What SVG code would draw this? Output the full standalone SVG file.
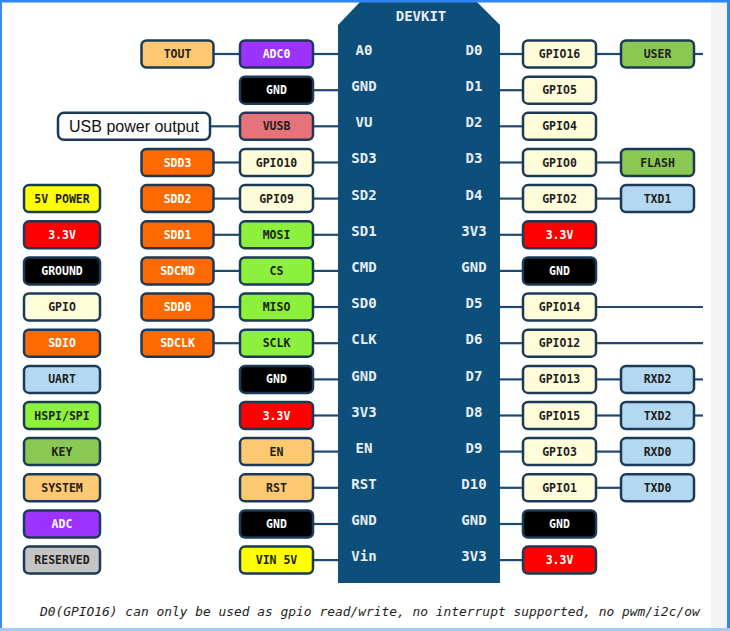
<svg xmlns="http://www.w3.org/2000/svg" width="730" height="631" viewBox="0 0 730 631">
<style>
.b{stroke:#1b3a58;stroke-width:2.5}
.t{font-family:"DejaVu Sans Mono","Liberation Mono",monospace;font-weight:bold;font-size:11.5px;text-anchor:middle;fill:#1e1e1e}
.w{fill:#ffffff}
.pl{font-family:"DejaVu Sans Mono","Liberation Mono",monospace;font-weight:bold;font-size:14px;text-anchor:middle;fill:#e8eef4}
.peach{fill:#fdc872}.purple{fill:#9d33ff}.black{fill:#000000}.salmon{fill:#e8727a}
.orange{fill:#ff6a00}.cream{fill:#fffcd9}.yellow{fill:#ffff00}.red{fill:#ff0000}
.lime{fill:#8cf03c}.green{fill:#8ac853}.blue{fill:#b5d8f1}.gray{fill:#c4c4c4}.white{fill:#ffffff}
#connectors line{stroke:#1d4a70;stroke-width:2.2}
</style>
<rect x="0" y="0" width="730" height="631" fill="#ffffff"/>
<rect x="711" y="0" width="17" height="631" fill="#f3f4f6"/>
<g id="connectors">
<line x1="213" y1="54" x2="240" y2="54"/><line x1="313" y1="54" x2="338" y2="54"/>
<line x1="313" y1="90.2" x2="338" y2="90.2"/>
<line x1="210" y1="126.3" x2="240" y2="126.3"/><line x1="313" y1="126.3" x2="338" y2="126.3"/>
<line x1="213" y1="162.5" x2="240" y2="162.5"/><line x1="313" y1="162.5" x2="338" y2="162.5"/>
<line x1="213" y1="198.6" x2="240" y2="198.6"/><line x1="313" y1="198.6" x2="338" y2="198.6"/>
<line x1="213" y1="234.8" x2="240" y2="234.8"/><line x1="313" y1="234.8" x2="338" y2="234.8"/>
<line x1="213" y1="270.9" x2="240" y2="270.9"/><line x1="313" y1="270.9" x2="338" y2="270.9"/>
<line x1="213" y1="307" x2="240" y2="307"/><line x1="313" y1="307" x2="338" y2="307"/>
<line x1="213" y1="343.2" x2="240" y2="343.2"/><line x1="313" y1="343.2" x2="338" y2="343.2"/>
<line x1="313" y1="379.4" x2="338" y2="379.4"/>
<line x1="313" y1="415.5" x2="338" y2="415.5"/>
<line x1="313" y1="451.6" x2="338" y2="451.6"/>
<line x1="313" y1="487.8" x2="338" y2="487.8"/>
<line x1="313" y1="524" x2="338" y2="524"/>
<line x1="313" y1="560.1" x2="338" y2="560.1"/>
<line x1="500" y1="54" x2="523" y2="54"/><line x1="596" y1="54" x2="621" y2="54"/><line x1="694" y1="54" x2="703" y2="54"/>
<line x1="500" y1="90.2" x2="523" y2="90.2"/>
<line x1="500" y1="126.3" x2="523" y2="126.3"/>
<line x1="500" y1="162.5" x2="523" y2="162.5"/><line x1="596" y1="162.5" x2="621" y2="162.5"/>
<line x1="500" y1="198.6" x2="523" y2="198.6"/><line x1="596" y1="198.6" x2="621" y2="198.6"/>
<line x1="500" y1="234.8" x2="523" y2="234.8"/>
<line x1="500" y1="270.9" x2="523" y2="270.9"/>
<line x1="500" y1="307" x2="523" y2="307"/><line x1="596" y1="307" x2="703" y2="307"/>
<line x1="500" y1="343.2" x2="523" y2="343.2"/><line x1="596" y1="343.2" x2="703" y2="343.2"/>
<line x1="500" y1="379.4" x2="523" y2="379.4"/><line x1="596" y1="379.4" x2="621" y2="379.4"/><line x1="694" y1="379.4" x2="703" y2="379.4"/>
<line x1="500" y1="415.5" x2="523" y2="415.5"/><line x1="596" y1="415.5" x2="621" y2="415.5"/><line x1="694" y1="415.5" x2="703" y2="415.5"/>
<line x1="500" y1="451.6" x2="523" y2="451.6"/><line x1="596" y1="451.6" x2="621" y2="451.6"/>
<line x1="500" y1="487.8" x2="523" y2="487.8"/><line x1="596" y1="487.8" x2="621" y2="487.8"/>
<line x1="500" y1="524" x2="523" y2="524"/>
<line x1="500" y1="560.1" x2="523" y2="560.1"/>
</g>
<g id="devkit">
<path d="M360 2 L477 2 L500 25 L500 583 L338 583 L338 25 Z" fill="#0e4e7a"/>
<text x="421" y="21" class="pl">DEVKIT</text>
<text x="364" y="55" class="pl">A0</text><text x="364" y="91" class="pl">GND</text><text x="364" y="127" class="pl">VU</text>
<text x="364" y="163" class="pl">SD3</text><text x="364" y="200" class="pl">SD2</text><text x="364" y="236" class="pl">SD1</text>
<text x="364" y="272" class="pl">CMD</text><text x="364" y="308" class="pl">SD0</text><text x="364" y="344" class="pl">CLK</text>
<text x="364" y="381" class="pl">GND</text><text x="364" y="417" class="pl">3V3</text><text x="364" y="453" class="pl">EN</text>
<text x="364" y="489" class="pl">RST</text><text x="364" y="525" class="pl">GND</text><text x="364" y="561" class="pl">Vin</text>
<text x="474" y="55" class="pl">D0</text><text x="474" y="91" class="pl">D1</text><text x="474" y="127" class="pl">D2</text>
<text x="474" y="163" class="pl">D3</text><text x="474" y="200" class="pl">D4</text><text x="474" y="236" class="pl">3V3</text>
<text x="474" y="272" class="pl">GND</text><text x="474" y="308" class="pl">D5</text><text x="474" y="344" class="pl">D6</text>
<text x="474" y="381" class="pl">D7</text><text x="474" y="417" class="pl">D8</text><text x="474" y="453" class="pl">D9</text>
<text x="474" y="489" class="pl">D10</text><text x="474" y="525" class="pl">GND</text><text x="474" y="561" class="pl">3V3</text>
</g>
<!-- legend -->
<g id="leg-5v"><rect x="24" y="185.1" width="76" height="27" rx="5" class="b yellow"/><text x="62" y="202.6" class="t">5V POWER</text></g>
<g id="leg-33"><rect x="24" y="221.3" width="76" height="27" rx="5" class="b red"/><text x="62" y="238.8" class="t w">3.3V</text></g>
<g id="leg-gnd"><rect x="24" y="257.4" width="76" height="27" rx="5" class="b black"/><text x="62" y="274.9" class="t w">GROUND</text></g>
<g id="leg-gpio"><rect x="24" y="293.5" width="76" height="27" rx="5" class="b cream"/><text x="62" y="311" class="t">GPIO</text></g>
<g id="leg-sdio"><rect x="24" y="329.7" width="76" height="27" rx="5" class="b orange"/><text x="62" y="347.2" class="t w">SDIO</text></g>
<g id="leg-uart"><rect x="24" y="365.9" width="76" height="27" rx="5" class="b blue"/><text x="62" y="383.4" class="t">UART</text></g>
<g id="leg-spi"><rect x="24" y="402" width="76" height="27" rx="5" class="b lime"/><text x="62" y="419.5" class="t">HSPI/SPI</text></g>
<g id="leg-key"><rect x="24" y="438.1" width="76" height="27" rx="5" class="b green"/><text x="62" y="455.6" class="t">KEY</text></g>
<g id="leg-sys"><rect x="24" y="474.3" width="76" height="27" rx="5" class="b peach"/><text x="62" y="491.8" class="t">SYSTEM</text></g>
<g id="leg-adc"><rect x="24" y="510.5" width="76" height="27" rx="5" class="b purple"/><text x="62" y="528" class="t w">ADC</text></g>
<g id="leg-res"><rect x="24" y="546.6" width="76" height="27" rx="5" class="b gray"/><text x="62" y="564.1" class="t">RESERVED</text></g>
<!-- column B -->
<g id="tout"><rect x="141.5" y="40.5" width="72" height="27" rx="5" class="b peach"/><text x="177.5" y="58" class="t">TOUT</text></g>
<g id="usbout"><rect x="58" y="112.8" width="152" height="27" rx="6" class="b white"/><text x="134" y="132" font-family="Liberation Sans, Arial, sans-serif" font-size="16" text-anchor="middle" fill="#111">USB power output</text></g>
<g id="sdd3"><rect x="141.5" y="149" width="72" height="27" rx="5" class="b orange"/><text x="177.5" y="166.5" class="t w">SDD3</text></g>
<g id="sdd2"><rect x="141.5" y="185.1" width="72" height="27" rx="5" class="b orange"/><text x="177.5" y="202.6" class="t w">SDD2</text></g>
<g id="sdd1"><rect x="141.5" y="221.3" width="72" height="27" rx="5" class="b orange"/><text x="177.5" y="238.8" class="t w">SDD1</text></g>
<g id="sdcmd"><rect x="141.5" y="257.4" width="72" height="27" rx="5" class="b orange"/><text x="177.5" y="274.9" class="t w">SDCMD</text></g>
<g id="sdd0"><rect x="141.5" y="293.5" width="72" height="27" rx="5" class="b orange"/><text x="177.5" y="311" class="t w">SDD0</text></g>
<g id="sdclk"><rect x="141.5" y="329.7" width="72" height="27" rx="5" class="b orange"/><text x="177.5" y="347.2" class="t w">SDCLK</text></g>
<!-- column C -->
<g id="adc0"><rect x="240" y="40.5" width="73" height="27" rx="5" class="b purple"/><text x="276.5" y="58" class="t w">ADC0</text></g>
<g id="gnd-l1"><rect x="240" y="76.7" width="73" height="27" rx="5" class="b black"/><text x="276.5" y="94.2" class="t w">GND</text></g>
<g id="vusb"><rect x="240" y="112.8" width="73" height="27" rx="5" class="b salmon"/><text x="276.5" y="130.3" class="t">VUSB</text></g>
<g id="gpio10"><rect x="240" y="149" width="73" height="27" rx="5" class="b cream"/><text x="276.5" y="166.5" class="t">GPIO10</text></g>
<g id="gpio9"><rect x="240" y="185.1" width="73" height="27" rx="5" class="b cream"/><text x="276.5" y="202.6" class="t">GPIO9</text></g>
<g id="mosi"><rect x="240" y="221.3" width="73" height="27" rx="5" class="b lime"/><text x="276.5" y="238.8" class="t">MOSI</text></g>
<g id="cs"><rect x="240" y="257.4" width="73" height="27" rx="5" class="b lime"/><text x="276.5" y="274.9" class="t">CS</text></g>
<g id="miso"><rect x="240" y="293.5" width="73" height="27" rx="5" class="b lime"/><text x="276.5" y="311" class="t">MISO</text></g>
<g id="sclk"><rect x="240" y="329.7" width="73" height="27" rx="5" class="b lime"/><text x="276.5" y="347.2" class="t">SCLK</text></g>
<g id="gnd-l2"><rect x="240" y="365.9" width="73" height="27" rx="5" class="b black"/><text x="276.5" y="383.4" class="t w">GND</text></g>
<g id="v33-l"><rect x="240" y="402" width="73" height="27" rx="5" class="b red"/><text x="276.5" y="419.5" class="t w">3.3V</text></g>
<g id="en"><rect x="240" y="438.1" width="73" height="27" rx="5" class="b peach"/><text x="276.5" y="455.6" class="t">EN</text></g>
<g id="rst"><rect x="240" y="474.3" width="73" height="27" rx="5" class="b peach"/><text x="276.5" y="491.8" class="t">RST</text></g>
<g id="gnd-l3"><rect x="240" y="510.5" width="73" height="27" rx="5" class="b black"/><text x="276.5" y="528" class="t w">GND</text></g>
<g id="vin5v"><rect x="240" y="546.6" width="73" height="27" rx="5" class="b yellow"/><text x="276.5" y="564.1" class="t">VIN 5V</text></g>
<!-- column D -->
<g id="gpio16"><rect x="523" y="40.5" width="73" height="27" rx="5" class="b cream"/><text x="559.5" y="58" class="t">GPIO16</text></g>
<g id="gpio5"><rect x="523" y="76.7" width="73" height="27" rx="5" class="b cream"/><text x="559.5" y="94.2" class="t">GPIO5</text></g>
<g id="gpio4"><rect x="523" y="112.8" width="73" height="27" rx="5" class="b cream"/><text x="559.5" y="130.3" class="t">GPIO4</text></g>
<g id="gpio0"><rect x="523" y="149" width="73" height="27" rx="5" class="b cream"/><text x="559.5" y="166.5" class="t">GPIO0</text></g>
<g id="gpio2"><rect x="523" y="185.1" width="73" height="27" rx="5" class="b cream"/><text x="559.5" y="202.6" class="t">GPIO2</text></g>
<g id="v33-r1"><rect x="523" y="221.3" width="73" height="27" rx="5" class="b red"/><text x="559.5" y="238.8" class="t w">3.3V</text></g>
<g id="gnd-r1"><rect x="523" y="257.4" width="73" height="27" rx="5" class="b black"/><text x="559.5" y="274.9" class="t w">GND</text></g>
<g id="gpio14"><rect x="523" y="293.5" width="73" height="27" rx="5" class="b cream"/><text x="559.5" y="311" class="t">GPIO14</text></g>
<g id="gpio12"><rect x="523" y="329.7" width="73" height="27" rx="5" class="b cream"/><text x="559.5" y="347.2" class="t">GPIO12</text></g>
<g id="gpio13"><rect x="523" y="365.9" width="73" height="27" rx="5" class="b cream"/><text x="559.5" y="383.4" class="t">GPIO13</text></g>
<g id="gpio15"><rect x="523" y="402" width="73" height="27" rx="5" class="b cream"/><text x="559.5" y="419.5" class="t">GPIO15</text></g>
<g id="gpio3"><rect x="523" y="438.1" width="73" height="27" rx="5" class="b cream"/><text x="559.5" y="455.6" class="t">GPIO3</text></g>
<g id="gpio1"><rect x="523" y="474.3" width="73" height="27" rx="5" class="b cream"/><text x="559.5" y="491.8" class="t">GPIO1</text></g>
<g id="gnd-r2"><rect x="523" y="510.5" width="73" height="27" rx="5" class="b black"/><text x="559.5" y="528" class="t w">GND</text></g>
<g id="v33-r2"><rect x="523" y="546.6" width="73" height="27" rx="5" class="b red"/><text x="559.5" y="564.1" class="t w">3.3V</text></g>
<!-- column E -->
<g id="user"><rect x="621" y="40.5" width="73" height="27" rx="5" class="b green"/><text x="657.5" y="58" class="t">USER</text></g>
<g id="flash"><rect x="621" y="149" width="73" height="27" rx="5" class="b green"/><text x="657.5" y="166.5" class="t">FLASH</text></g>
<g id="txd1"><rect x="621" y="185.1" width="73" height="27" rx="5" class="b blue"/><text x="657.5" y="202.6" class="t">TXD1</text></g>
<g id="rxd2"><rect x="621" y="365.9" width="73" height="27" rx="5" class="b blue"/><text x="657.5" y="383.4" class="t">RXD2</text></g>
<g id="txd2"><rect x="621" y="402" width="73" height="27" rx="5" class="b blue"/><text x="657.5" y="419.5" class="t">TXD2</text></g>
<g id="rxd0"><rect x="621" y="438.1" width="73" height="27" rx="5" class="b blue"/><text x="657.5" y="455.6" class="t">RXD0</text></g>
<g id="txd0"><rect x="621" y="474.3" width="73" height="27" rx="5" class="b blue"/><text x="657.5" y="491.8" class="t">TXD0</text></g>
<text x="40" y="616" font-family="DejaVu Sans Mono, Liberation Mono, monospace" font-style="italic" font-size="12.9" fill="#1e1e1e">D0(GPIO16) can only be used as gpio read/write, no interrupt supported, no pwm/i2c/ow</text>
<line x1="0" y1="1.2" x2="730" y2="1.2" stroke="#2f86f0" stroke-width="2.5"/>
<line x1="1" y1="0" x2="1" y2="631" stroke="#3a8cf0" stroke-width="2"/>
<line x1="728.5" y1="0" x2="728.5" y2="631" stroke="#2f86f0" stroke-width="3"/>
<line x1="0" y1="629.5" x2="730" y2="629.5" stroke="#a6c8f4" stroke-width="3"/>
</svg>
